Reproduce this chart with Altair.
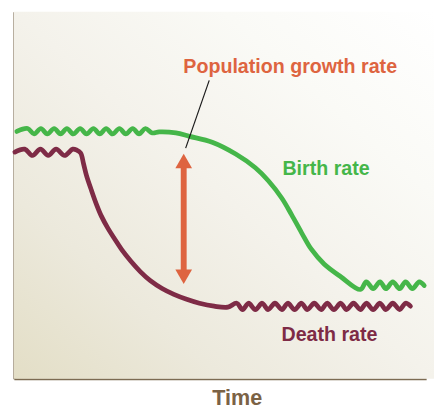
import altair as alt
import pandas as pd

# ---- data (time units, rate units) ----
birth_t = [3, 14, 20.5, 27.5, 34, 41, 47.5, 54, 60.5, 67.5, 74, 81, 87.5, 94, 100.5, 107.5, 114, 121, 127.5, 134,
           141, 148, 165, 179, 202, 226, 246, 259, 273, 283, 293, 303, 316, 333, 353,
           359, 366, 373, 379, 386, 393, 399, 406, 413, 418]
birth_rate = [252, 255, 249.5, 255, 249.5, 255, 249.5, 255, 249.5, 255, 249.5, 255, 249.5, 255, 249.5, 255, 249.5, 255, 249.5, 255,
              250.5, 251.5, 250.5, 247, 241, 229, 215, 202, 184, 167, 149, 132, 117, 104, 91,
              98.8, 91.8, 98.8, 91.8, 98.8, 91.8, 98.8, 91.8, 98.8, 95]

death_t = [1, 11, 19, 27, 35, 43, 51.5, 60, 64, 68, 71, 74, 79, 84, 89, 96, 103, 111, 119, 129, 139, 151, 163, 176,
           189, 204, 218,
           227, 233, 239, 246, 253, 259, 266, 273, 279, 286, 293, 299, 306, 313, 319, 326,
           333, 339, 346, 353, 359, 366, 373, 379, 386, 393, 399, 404]
death_rate = [231, 234, 227.5, 234, 227.5, 234, 227.5, 234, 233, 230, 219, 207, 192, 178, 166, 153, 142, 130, 120, 109, 100, 92, 86, 81,
              77, 74, 73,
              77, 70.5, 77, 70.5, 77, 70.5, 77, 70.5, 77, 70.5, 77, 70.5, 77, 70.5, 77, 70.5,
              77, 70.5, 77, 70.5, 77, 70.5, 77, 70.5, 77, 70.5, 77, 74]

arrow_t = [173]
arrow_head_top = [222]
arrow_head_bottom = [104]
shaft_top = [219]
shaft_bottom = [107]

leader_t = [175, 199]
leader_rate = [235, 304]

label_text = ["Population growth rate", "Birth rate", "Death rate"]
label_t = [281.5, 318, 321.5]
label_rate = [312, 208, 39]
label_color = ["#de6440", "#45b649", "#7e2b46"]

GREEN = "#45b649"
MAROON = "#7e2b46"
ORANGE = "#de6440"
BROWN = "#7c6b52"

W, H = 420, 374

lines_df = pd.DataFrame({
    "t": birth_t + death_t,
    "rate": birth_rate + death_rate,
    "series": ["Birth rate"] * len(birth_t) + ["Death rate"] * len(death_t),
    "idx": list(range(len(birth_t))) + list(range(len(death_t))),
})

xscale = alt.Scale(domain=[0, W], nice=False, zero=False)
yscale = alt.Scale(domain=[0, H], nice=False, zero=False)

x_axis = alt.Axis(title="Time", domain=True, domainColor=BROWN, domainWidth=2,
                  ticks=False, labels=False, grid=False,
                  titleFont="Liberation Sans", titleFontSize=22, titleFontWeight="bold",
                  titleColor="#7b6245", titleX=227, titleY=26,
                  titleBaseline="alphabetic", titleAlign="center")
y_axis = alt.Axis(title="", domain=True, domainColor=BROWN, domainWidth=2,
                  ticks=False, labels=False, grid=False)

bg = alt.Chart(pd.DataFrame({"a": [0]})).mark_rect(
    fill=alt.LinearGradient(
        gradient="linear",
        stops=[alt.GradientStop(color="#e3dec6", offset=0),
               alt.GradientStop(color="#ece9dc", offset=0.25),
               alt.GradientStop(color="#f4f2eb", offset=0.5),
               alt.GradientStop(color="#fafaf6", offset=0.75),
               alt.GradientStop(color="#ffffff", offset=1)],
        x1=0, y1=1, x2=1, y2=0),
    clip=False,
).encode(x=alt.value(0), x2=alt.value(W + 8), y=alt.value(0), y2=alt.value(H))

lines = alt.Chart(lines_df).mark_line(
    interpolate="catmull-rom", strokeWidth=4.8, strokeCap="round", strokeJoin="round"
).encode(
    x=alt.X("t:Q", scale=xscale, axis=x_axis),
    y=alt.Y("rate:Q", scale=yscale, axis=y_axis),
    color=alt.Color("series:N", scale=alt.Scale(domain=["Birth rate", "Death rate"], range=[GREEN, MAROON]), legend=None),
    order="idx:Q",
)

shaft = alt.Chart(pd.DataFrame({"t": arrow_t, "rate": shaft_top, "rate2": shaft_bottom})).mark_rule(
    color=ORANGE, strokeWidth=6
).encode(x="t:Q", y="rate:Q", y2="rate2:Q")

head_up = alt.Chart(pd.DataFrame({"t": arrow_t, "rate": arrow_head_top})).mark_point(
    shape="triangle-up", filled=True, size=289, color=ORANGE, opacity=1
).encode(x="t:Q", y="rate:Q")

head_down = alt.Chart(pd.DataFrame({"t": arrow_t, "rate": arrow_head_bottom})).mark_point(
    shape="triangle-down", filled=True, size=289, color=ORANGE, opacity=1
).encode(x="t:Q", y="rate:Q")

leader = alt.Chart(pd.DataFrame({"t": leader_t, "rate": leader_rate})).mark_line(
    color="#1a1a1a", strokeWidth=1.2
).encode(x="t:Q", y="rate:Q")

labels = alt.Chart(pd.DataFrame({"t": label_t, "rate": label_rate, "text": label_text, "color": label_color})).mark_text(
    font="Liberation Sans", fontSize=20, fontWeight="bold", align="center", baseline="alphabetic"
).encode(x="t:Q", y="rate:Q", text="text:N", color=alt.Color("color:N", scale=None))

chart = alt.layer(bg, lines, leader, shaft, head_up, head_down, labels).properties(
    width=W, height=H,
    autosize=alt.AutoSizeParams(type="none"),
    padding={"left": 6, "top": 0, "right": 8, "bottom": 28},
    background="white",
).configure_view(stroke=None)

chart.save("out.html", embed_options={"renderer": "svg", "actions": False})
